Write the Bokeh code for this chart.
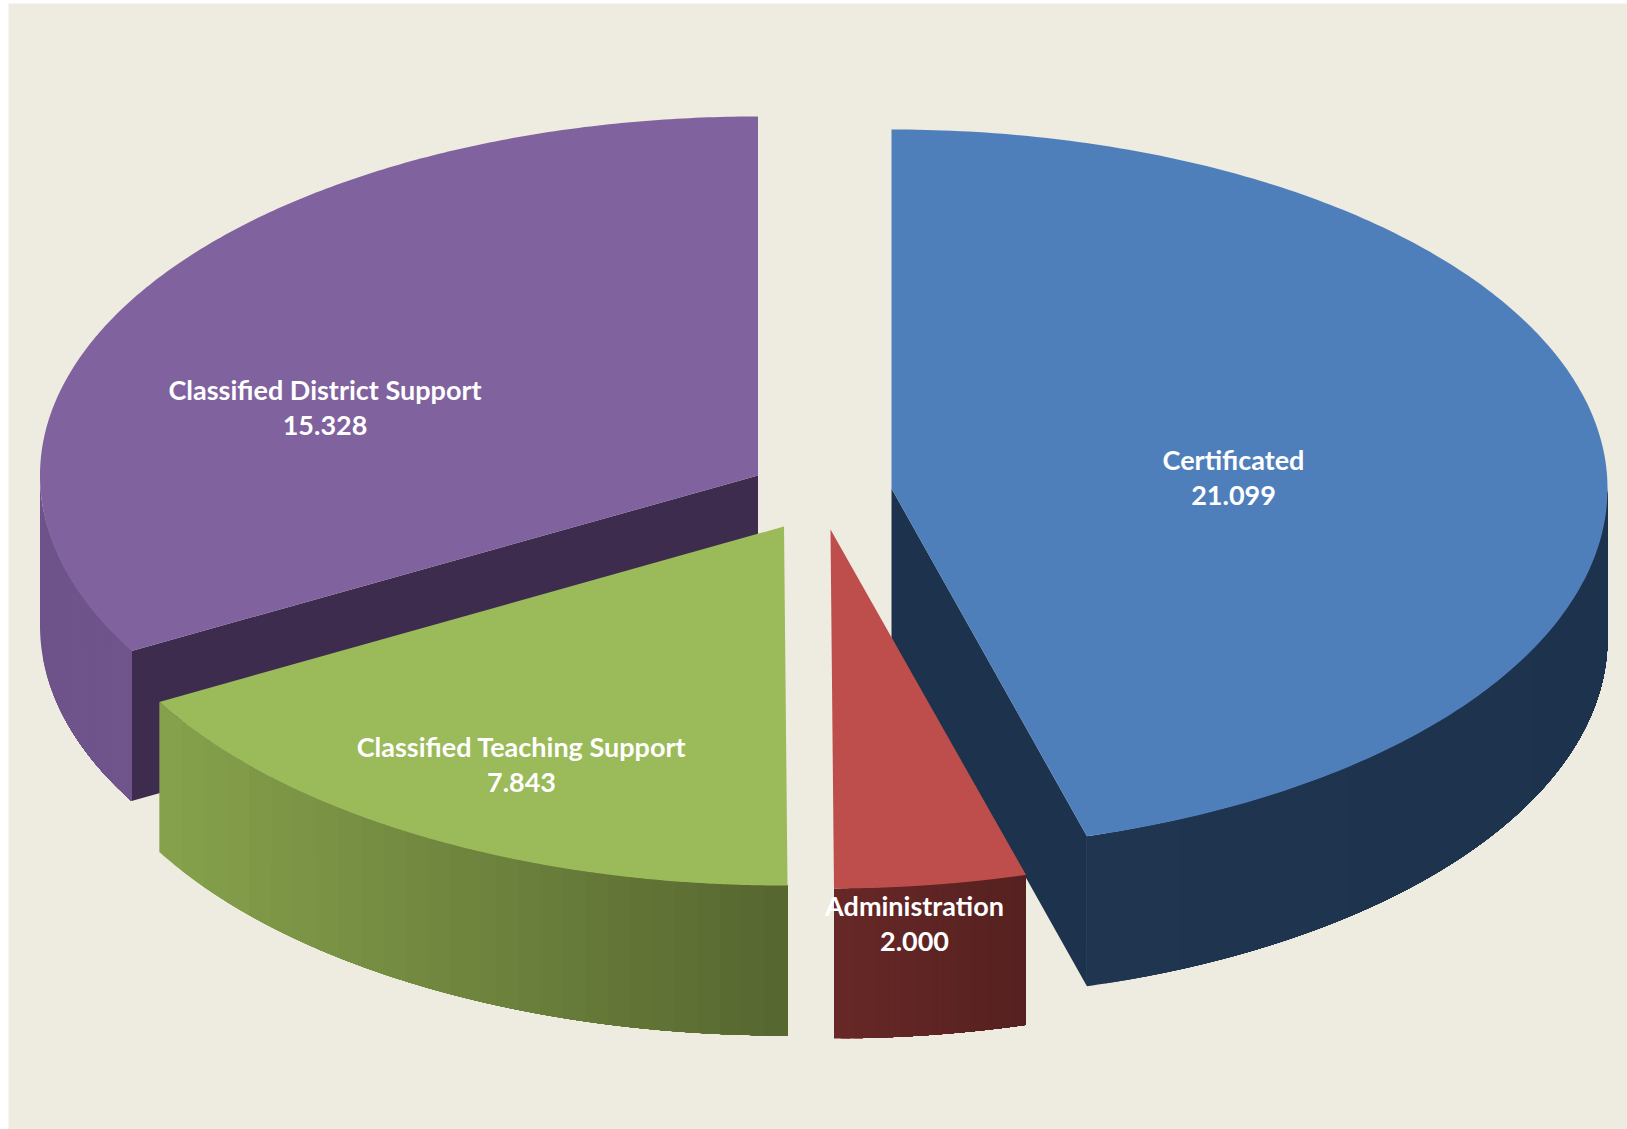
import numpy as np
from bokeh.core.properties import value
from bokeh.embed import file_html
from bokeh.models import ColumnDataSource
from bokeh.plotting import figure
from bokeh.resources import INLINE

# Slice data, clockwise from twelve o'clock
categories = ["Certificated", "Administration", "Classified Teaching Support", "Classified District Support"]
amounts = [21.099, 2.000, 7.843, 15.328]

# Colours for each slice: top face, cut face, outer wall gradient (left to right)
top_colors = ["#4f7fbb", "#bd4e4b", "#9bba59", "#7f629e"]
cut_colors = ["#1d324d", "#551f1e", "#556530", "#3d2c4e"]
wall_left = ["#20354f", "#672827", "#86a14b", "#6d5389"]
wall_right = ["#1d324d", "#552120", "#55652f", "#6f558b"]

# Projection of the exploded 3D pie in screen pixels
apex_x = [891.0, 830.0, 783.5, 757.5]
apex_y = [488.0, 529.0, 526.0, 475.0]
radius_x = [716.0, 716.0, 716.0, 718.0]
radius_back = [359.0, 359.0, 359.0, 359.0]
radius_front = [361.5, 359.0, 359.0, 359.0]
label_x = [1233, 914, 521, 324.5]
label_y = [459, 905, 746, 389]
DEPTH = 150.0
LINE_GAP = 36
PAINT_ORDER = [3, 0, 2, 1]
WALL_BANDS = 28

W, H = 1627, 1129
p = figure(width=W, height=H, x_range=(0, W), y_range=(H, 0), output_backend="svg",
           toolbar_location=None, min_border=0, outline_line_color=None,
           background_fill_color="#ffffff", border_fill_color="#ffffff")
p.axis.visible = False
p.grid.visible = False

p.quad(left=8, right=W, top=3, bottom=H, fill_color="#eeebe0", line_color=None)

amounts_arr = np.array(amounts)
edges = np.concatenate([[0.0], np.cumsum(amounts_arr) / amounts_arr.sum() * 2 * np.pi])


def rim(i, t):
    t = np.asarray(t, dtype=float)
    ry = np.where(np.cos(t) >= 0, radius_back[i], radius_front[i])
    return apex_x[i] + radius_x[i] * np.sin(t), apex_y[i] - ry * np.cos(t)


def mix(a, b, f):
    ca = [int(a[k:k + 2], 16) for k in (1, 3, 5)]
    cb = [int(b[k:k + 2], 16) for k in (1, 3, 5)]
    return "#%02x%02x%02x" % tuple(round(x + (y - x) * f) for x, y in zip(ca, cb))


def draw_polygon(xs, ys, color):
    p.patch(list(xs), list(ys), fill_color=color, line_color=None)


for i in PAINT_ORDER:
    cx, cy = apex_x[i], apex_y[i]
    t0, t1 = edges[i], edges[i + 1]
    # The wall is only visible on the front half of the ellipse
    w0, w1 = max(t0, np.pi / 2), min(t1, 3 * np.pi / 2)

    # Cut faces that turn towards the viewer
    if i in (0, 3):
        ex, ey = rim(i, t1 if i == 0 else t0)
        draw_polygon([cx, ex, ex, cx], [cy, ey, ey + DEPTH, cy + DEPTH], cut_colors[i])

    # Outer wall: bands painted left to right, each one running to the wall's
    # right end so that neighbouring bands leave no seam between them
    xa, _ = rim(i, w0)
    xb, _ = rim(i, w1)
    lo, hi = min(xa, xb), max(xa, xb)
    bands = {"xs": [], "ys": [], "color": []}
    for bx in np.linspace(lo, hi, WALL_BANDS, endpoint=False):
        f = (bx - lo) / (hi - lo)
        s = np.arcsin(np.clip((bx - cx) / radius_x[i], -1, 1))
        # Wall angle whose rim sits at this band's left edge, front half of the ellipse
        arc = np.linspace(w0, min(np.pi - s, w1), 160)
        rx, ry = rim(i, arc)
        bands["xs"].append(np.r_[rx, rx[::-1]].tolist())
        bands["ys"].append(np.r_[ry, ry[::-1] + DEPTH].tolist())
        bands["color"].append(mix(wall_left[i], wall_right[i], f))
    p.patches("xs", "ys", source=ColumnDataSource(bands), fill_color="color", line_color=None)

    # Top face
    ax, ay = rim(i, np.linspace(t0, t1, 240))
    draw_polygon(np.r_[cx, ax], np.r_[cy, ay], top_colors[i])

# Two-line data labels: category, then value
font = value("Lato")
for name, amt, x, y in zip(categories, amounts, label_x, label_y):
    for k, line in enumerate([name, f"{amt:.3f}"]):
        p.text([x], [y + k * LINE_GAP], text=[line], text_color="#ffffff", text_font=font,
               text_font_size="27px", text_font_style="bold",
               text_align="center", text_baseline="middle")

open("out.html", "w").write(file_html(p, INLINE))
